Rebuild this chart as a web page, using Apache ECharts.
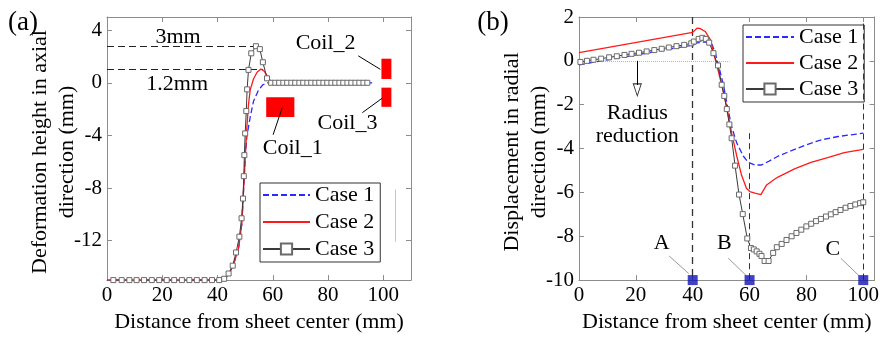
<!DOCTYPE html>
<html>
<head>
<meta charset="UTF-8">
<title></title>
<style type="text/css">
	body{margin:0;background:#fff;}
	#main{width:882px;height:338px;}
</style>
</head>
<body>
<div id="main"></div>
<script type="text/javascript" src="https://cdn.jsdelivr.net/npm/echarts@6/dist/echarts.min.js"></script>
<script>
// ---- panel (a): deformation height in axial direction ----
var a_case1 = [[0,-15],[42,-15],[44,-14.6],[45.8,-13.8],[47.6,-12.6],[48.8,-10.7],[49.4,-8.2],[50,-5.8],[50.6,-4.1],
	[51.8,-2.63],[53,-1.41],[54.8,-0.56],[56.4,-0.15],[58,0],[96.5,0]];
var a_case2 = [[0,-15],[42,-15],[44,-14.6],[45.8,-13.8],[47.6,-12.6],[48.8,-10.7],[49.4,-8.2],[50,-5.8],[50.6,-3.4],
	[51.2,-1.65],[51.8,-0.56],[53,0.29],[54.3,0.8],[55.7,1.05],[57,0.85],[57.9,0.54],[59.1,0.17],[60.3,0.05],[62,0],[94,0]];
var a_case3 = [[2.3,-15],[5.3,-15],[8.1,-15],[10.7,-15],[13.4,-15],[16.2,-15],[18.9,-15],[21.6,-15],[24.3,-15],
	[27.1,-15],[29.8,-15],[32.5,-15],[35.3,-15],[38,-15],[40.6,-15],[42.4,-14.9],[44,-14.5],[45.5,-13.9],[46.7,-12.9],
	[47.9,-11.7],[48.7,-10.3],[49.2,-8.8],[49.5,-7.1],[49.7,-5.5],[50,-3.85],[50.4,-2.15],[50.7,-0.5],[51.2,0.98],
	[52.2,2.24],[53.9,2.78],[55.3,2.56],[56.4,1.56],[57.9,0.34],[59.4,0],[60.9,0],[62.3,0],[63.8,0],[65.2,0],[66.7,0],
	[68.1,0],[69.6,0],[71,0],[72.5,0],[73.9,0],[75.4,0],[76.8,0],[78.3,0],[79.7,0],[81.2,0],[82.6,0],[84.1,0],[85.5,0],
	[87,0],[88.4,0],[89.9,0],[91.3,0],[92.8,0],[94.2,0]];
var a_xTicks = [0,20,40,60,80,100];
var a_yTicks = [-12,-8,-4,0,4];

// ---- panel (b): displacement in radial direction ----
var b_case1 = [[0,-0.18],[40,0.72],[41.6,0.82],[44.4,0.87],[46.8,0.75],[47.9,0.38],[49.1,-0.21],[50.8,-1.09],
	[52.3,-2.12],[53.7,-3.0],[55.5,-3.75],[57.8,-4.34],[59.5,-4.63],[61.9,-4.75],[64.2,-4.75],[66.5,-4.6],[70,-4.35],
	[73.7,-4.15],[79.5,-3.85],[85.3,-3.6],[91.2,-3.45],[100,-3.3]];
var b_case2 = [[0,0.38],[40,1.3],[41.5,1.49],[42.5,1.48],[44.4,1.34],[46.2,0.97],[47.3,0.38],[48.5,-0.21],[50.2,-1.09],
	[52,-2.12],[53.7,-3.3],[55.5,-4.34],[57.2,-5.22],[58.9,-5.81],[60.1,-5.96],[61.9,-6.03],[64,-6.1],[66,-5.66],
	[68.8,-5.4],[70,-5.3],[75.8,-4.93],[81.6,-4.63],[87.5,-4.41],[93.3,-4.19],[100,-4.04]];
var b_case3 = [[0.5,-0.05],[2.8,0],[5.1,0.05],[7.8,0.1],[10.6,0.16],[13.3,0.21],[16,0.27],[18.5,0.32],[21.1,0.37],
	[23.8,0.43],[26.5,0.49],[29.1,0.55],[31.6,0.61],[34.3,0.67],[37,0.73],[39.5,0.8],[40.4,0.88],[42.1,1.0],[43.4,1.05],
	[44.6,1.0],[45.8,0.83],[47.3,0.35],[48.9,-0.21],[50.2,-1.09],[51.1,-1.6],[52,-2.2],[52.9,-2.9],[53.7,-3.53],
	[54.9,-4.78],[56.3,-6.1],[57.6,-6.99],[59.2,-8.1],[60.5,-8.54],[61.5,-8.6],[62.5,-8.69],[63.5,-8.8],[64.2,-8.9],
	[65.3,-9.13],[66.7,-9.13],[68.3,-8.76],[69.6,-8.5],[71.3,-8.35],[73,-8.17],[74.8,-8.0],[76.5,-7.85],[78.2,-7.7],
	[80,-7.55],[81.7,-7.43],[83.4,-7.31],[85.1,-7.21],[86.9,-7.1],[88.6,-7.0],[90.3,-6.9],[92,-6.8],[93.8,-6.7],
	[95.5,-6.62],[97.2,-6.55],[98.9,-6.49],[100,-6.45]];
var b_points = [[40,-10],[60,-10],[100,-10]];
var b_xTicks = [0,20,40,60,80,100];
var b_yTicks = [-10,-8,-6,-4,-2,0,2];

var caseNames = ['Case 1','Case 2','Case 3'];

var FONT = "'Liberation Serif', 'DejaVu Serif', serif";
var frameColor = '#8c8c8c';
var myChart = echarts.init(document.getElementById('main'));

function makeAxis(grid, pos, min, max, ticks, withLabel, name){
	var ax = {
		gridIndex: grid, type: 'value', position: pos, min: min, max: max,
		axisLine: {show: true, onZero: false, lineStyle: {color: frameColor, width: 1}},
		axisTick: {show: true, inside: true, length: 5, customValues: ticks, lineStyle: {color: frameColor}},
		axisLabel: {show: withLabel, customValues: ticks, fontFamily: FONT, fontSize: 21, color: '#000', margin: 5},
		splitLine: {show: false}
	};
	if(name){
		ax.name = name;
		ax.nameLocation = 'middle';
		ax.nameGap = 22;
		ax.nameTextStyle = {fontFamily: FONT, fontSize: 22, color: '#000', verticalAlign: 'top'};
	}
	return ax;
}

function caseSeries(idx, data, axis){
	var s = {
		name: caseNames[idx], type: 'line', data: data, xAxisIndex: axis, yAxisIndex: axis,
		smooth: false, z: 5
	};
	if(idx === 0){
		s.symbol = 'none';
		s.lineStyle = {color: '#2a2aff', width: 1.3, type: [6,3]};
		s.itemStyle = {color: '#2a2aff'};
	}else if(idx === 1){
		s.symbol = 'none';
		s.lineStyle = {color: '#ff1a1a', width: 1.3};
		s.itemStyle = {color: '#ff1a1a'};
	}else{
		s.symbol = 'rect';
		s.symbolSize = 5;
		s.lineStyle = {color: '#3a3a3a', width: 1};
		s.itemStyle = {color: '#fff', borderColor: '#6a6a6a', borderWidth: 1};
	}
	return s;
}

// legend entries: plain line for case 1 and 2, line + square for case 3
var legendItems = [
	{name: caseNames[0], itemStyle: {opacity: 0}},
	{name: caseNames[1], itemStyle: {opacity: 0}},
	{name: caseNames[2]}
];

var dashStyle = {color: '#222', width: 1, type: [7,4]};
var thin = {color: '#000', width: 1, type: 'solid'};
var leader = {color: '#999', width: 1, type: 'solid'};

var option = {
	animation: false,
	backgroundColor: '#fff',
	textStyle: {fontFamily: FONT},
	grid: [
		{left: 107, top: 17, width: 304, height: 271},
		{left: 579, top: 17, width: 298, height: 271}
	],
	xAxis: [
		makeAxis(0, 'bottom', 0, 110, a_xTicks, true, 'Distance from sheet center (mm)'),
		makeAxis(0, 'top', 0, 110, a_xTicks, false),
		makeAxis(1, 'bottom', 0, 104, b_xTicks, true, 'Distance from sheet center (mm)'),
		makeAxis(1, 'top', 0, 104, b_xTicks, false)
	],
	yAxis: [
		makeAxis(0, 'left', -15, 5, a_yTicks, true),
		makeAxis(0, 'right', -15, 5, a_yTicks, false),
		makeAxis(1, 'left', -10, 2, b_yTicks, true),
		makeAxis(1, 'right', -10, 2, b_yTicks, false)
	],
	legend: [
		{
			data: legendItems, orient: 'vertical', left: 260, top: 183,
			itemWidth: 47, itemHeight: 14, itemGap: 5, padding: [1,6,2,2],
			borderColor: '#333', borderWidth: 1, backgroundColor: '#fff', borderRadius: 0,
			textStyle: {fontFamily: FONT, fontSize: 22, color: '#000'}
		},
		{
			data: legendItems, orient: 'vertical', left: 743, top: 25,
			itemWidth: 48, itemHeight: 14, itemGap: 4, padding: [1,6,2,2],
			borderColor: '#333', borderWidth: 1, backgroundColor: '#fff', borderRadius: 0,
			textStyle: {fontFamily: FONT, fontSize: 22, color: '#000'}
		}
	],
	series: [
		// annotations for (a)
		{
			type: 'line', data: [], xAxisIndex: 0, yAxisIndex: 0, z: 2,
			markLine: {
				silent: true, symbol: 'none', label: {show: false}, animation: false,
				data: [
					[{coord: [0, 2.75], lineStyle: dashStyle}, {coord: [52.9, 2.75]}],
					[{coord: [0, 1.05], lineStyle: dashStyle}, {coord: [56.5, 1.05]}],
					[{coord: [90.9, 2.05], lineStyle: thin}, {coord: [98.9, 1.02]}],
					[{coord: [92.4, -2.27], lineStyle: thin}, {coord: [99.6, -1.17]}],
					[{coord: [60.1, -3.95], lineStyle: thin}, {coord: [63.4, -1.9]}],
					[{coord: [104.3, -8.1], lineStyle: {color: '#c8c8c8', width: 1, type: 'solid'}}, {coord: [104.3, -12.1]}]
				]
			},
			markArea: {
				silent: true,
				itemStyle: {color: '#ff0000', opacity: 1},
				data: [
					[{coord: [57.6, -1.1]}, {coord: [67.8, -2.6]}],
					[{coord: [99.3, 1.83]}, {coord: [102.9, 0.29]}],
					[{coord: [99.3, -0.37]}, {coord: [102.9, -1.83]}]
				]
			}
		},
		caseSeries(0, a_case1, 0),
		caseSeries(1, a_case2, 0),
		caseSeries(2, a_case3, 0),
		// annotations for (b)
		{
			type: 'line', data: [], xAxisIndex: 2, yAxisIndex: 2, z: 2,
			markLine: {
				silent: true, symbol: 'none', label: {show: false}, animation: false,
				data: [
					[{coord: [0, 0], lineStyle: {color: '#b5b5b5', width: 1, type: 'dotted'}}, {coord: [53, 0]}],
					[{coord: [40, 2], lineStyle: {color: '#333', width: 1.3, type: [7,5]}}, {coord: [40, -10]}],
					[{coord: [60, -3.3], lineStyle: {color: '#333', width: 1, type: [6,4]}}, {coord: [60, -10]}],
					[{coord: [100, 1.7], lineStyle: {color: '#333', width: 1, type: [6,4]}}, {coord: [100, -10]}],
					[{coord: [20.5, 0], lineStyle: thin}, {coord: [20.5, -1.1]}],
					[{coord: [31.7, -8.9], lineStyle: leader}, {coord: [38.6, -9.7]}],
					[{coord: [52.5, -9.0], lineStyle: leader}, {coord: [58.9, -9.8]}],
					[{coord: [92.1, -9.0], lineStyle: leader}, {coord: [98.5, -9.8]}]
				]
			}
		},
		{
			type: 'scatter', xAxisIndex: 2, yAxisIndex: 2, z: 3, silent: true,
			data: [[20.5, -1.32]], symbol: 'triangle', symbolRotate: 180, symbolSize: [8, 12],
			itemStyle: {color: '#fff', borderColor: '#000', borderWidth: 1}
		},
		caseSeries(0, b_case1, 2),
		caseSeries(1, b_case2, 2),
		caseSeries(2, b_case3, 2),
		{
			type: 'scatter', xAxisIndex: 2, yAxisIndex: 2, z: 8, silent: true, clip: false,
			data: b_points, symbol: 'rect', symbolSize: 10,
			itemStyle: {color: '#1212b8'}
		}
	]
};
myChart.setOption(option);

// texts placed at data coordinates
function at(axis, p){
	return myChart.convertToPixel({xAxisIndex: axis, yAxisIndex: axis}, p);
}
function txt(pos, s, size, rot){
	return {
		type: 'text', x: pos[0], y: pos[1], rotation: rot || 0, z: 20, silent: true,
		style: {text: s, font: (size || 22) + 'px ' + FONT, fill: '#000', textAlign: 'center', textVerticalAlign: 'middle'}
	};
}
var graphics = [
	txt([23, 23], '(a)', 27),
	txt([493, 23], '(b)', 27),
	txt([40, 152], 'Deformation height in axial', 22, Math.PI / 2),
	txt([67, 152], 'direction (mm)', 22, Math.PI / 2),
	txt([512, 152], 'Displacement in radial', 22, Math.PI / 2),
	txt([539, 152], 'direction (mm)', 22, Math.PI / 2),
	txt(at(0, [25.7, 3.5]), '3mm'),
	txt(at(0, [25.4, -0.1]), '1.2mm'),
	txt(at(0, [79.1, 3.0]), 'Coil_2'),
	txt(at(0, [87, -3.07]), 'Coil_3'),
	txt(at(0, [67.2, -4.97]), 'Coil_1'),
	txt(at(2, [20.5, -2.39]), 'Radius'),
	txt(at(2, [20.5, -3.45]), 'reduction'),
	txt(at(2, [29.1, -8.3]), 'A'),
	txt(at(2, [51.1, -8.3]), 'B'),
	txt(at(2, [89.3, -8.6]), 'C')
];
myChart.setOption({graphic: graphics});
</script>
</body>
</html>
